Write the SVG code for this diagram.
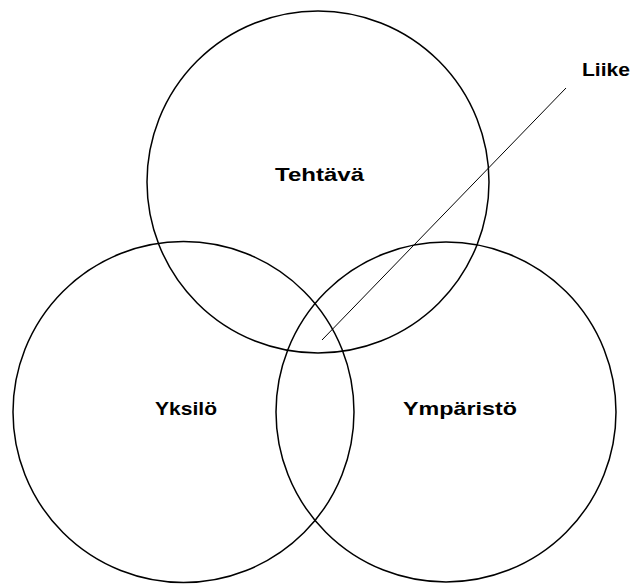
<svg xmlns="http://www.w3.org/2000/svg" width="630" height="584" viewBox="0 0 630 584">
<style>
.c{fill:none;stroke:#000;stroke-width:1.5}
.t{font-family:"Liberation Sans",Arial,sans-serif;font-weight:bold;font-size:19px;fill:#000}
</style>
<rect width="630" height="584" fill="#fff"/>
<g id="tehtava"><circle class="c" cx="318" cy="182" r="171"/><text class="t" x="275" y="181" textLength="89" lengthAdjust="spacingAndGlyphs">Tehtävä</text></g>
<g id="yksilo"><circle class="c" cx="183.5" cy="412" r="170.5"/><text class="t" x="155" y="415" textLength="62" lengthAdjust="spacingAndGlyphs">Yksilö</text></g>
<g id="ymparisto"><circle class="c" cx="446" cy="412" r="170"/><text class="t" x="403" y="415" textLength="114" lengthAdjust="spacingAndGlyphs">Ympäristö</text></g>
<g id="liike"><text class="t" x="582" y="76" textLength="48" lengthAdjust="spacingAndGlyphs">Liike</text></g>
<g id="connectors"><line x1="322" y1="340" x2="566" y2="88" stroke="#000" stroke-width="1"/></g>
</svg>
